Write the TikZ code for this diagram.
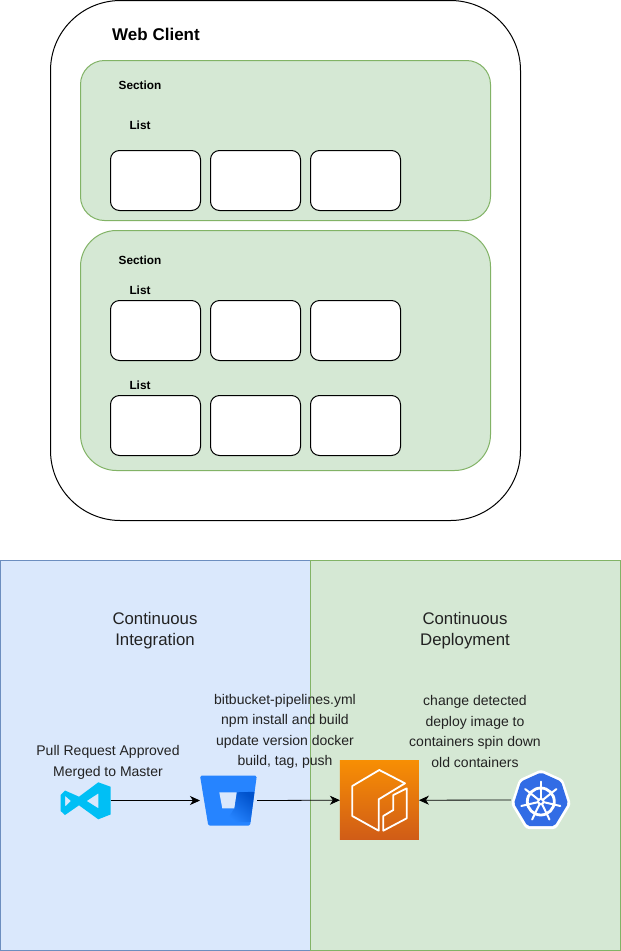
\documentclass[tikz,border=0pt]{standalone}
\usepackage{fontspec}
\setmainfont{Liberation Sans}
\usetikzlibrary{arrows.meta}
\definecolor{bluefill}{HTML}{DAE8FC}
\definecolor{bluestroke}{HTML}{6C8EBF}
\definecolor{greenfill}{HTML}{D5E8D4}
\definecolor{greenstroke}{HTML}{82B366}
\definecolor{txt}{HTML}{222222}
\definecolor{vsblue}{HTML}{00BFF5}
\definecolor{bbblue}{HTML}{2684FF}
\definecolor{bbdark}{HTML}{0052CC}
\definecolor{awstop}{HTML}{F78E04}
\definecolor{awsbot}{HTML}{D05C17}
\definecolor{kblue}{HTML}{326CE5}
\tikzset{
  x=1pt,y=-1pt,
  boxbase/.style={draw,line width=1pt,inner sep=0pt,outer sep=0pt},
  outerbox/.style={boxbase,draw=black,fill=white,rounded corners=70pt,minimum width=470pt,minimum height=520pt},
  sectbox/.style={boxbase,draw=greenstroke,fill=greenfill,minimum width=410pt},
  card/.style={boxbase,draw=black,fill=white,rounded corners=9pt,minimum width=90pt,minimum height=60pt},
  panel/.style={boxbase,minimum width=310pt,minimum height=390pt},
  webtitle/.style={font=\fontsize{17}{20}\selectfont\bfseries,inner sep=0pt,text=black},
  smalllabel/.style={font=\fontsize{11.8}{14}\selectfont\bfseries,inner sep=0pt,text=black},
  headlabel/.style={font=\fontsize{16.8}{21}\selectfont,align=center,inner sep=0pt,text=txt},
  bodylabel/.style={font=\fontsize{14}{20.4}\selectfont,align=center,inner sep=0pt,text=txt},
  iconbox/.style={inner sep=0pt,outer sep=0pt,minimum height=50pt},
  flow/.style={draw=black,line width=0.8pt,-{Stealth[length=10pt,width=9pt,inset=3pt]}},
  iconline/.style={draw=white,line width=1.8pt,line join=round,fill=none}
}
\begin{document}
\begin{tikzpicture}
\useasboundingbox[fill=white] (0,0) rectangle (621,951);
% panels
\node[panel,draw=bluestroke,fill=bluefill] (ci) at (155.5,755.5) {};
\node[panel,draw=greenstroke,fill=greenfill] (cd) at (465.5,755.5) {};
% web client
\node[outerbox] (web) at (285.5,260.5) {};
\node[sectbox,minimum height=160pt,rounded corners=24pt] (s1) at (285.5,140.5) {};
\node[sectbox,minimum height=240pt,rounded corners=36pt] (s2) at (285.5,350.5) {};
\node[card] (c11) at (155.5,180.5) {};
\node[card] (c12) at (255.5,180.5) {};
\node[card] (c13) at (355.5,180.5) {};
\node[card] (c21) at (155.5,330.5) {};
\node[card] (c22) at (255.5,330.5) {};
\node[card] (c23) at (355.5,330.5) {};
\node[card] (c31) at (155.5,425.5) {};
\node[card] (c32) at (255.5,425.5) {};
\node[card] (c33) at (355.5,425.5) {};
\node[webtitle] (tweb) at (156,34.5) {Web Client};
\node[smalllabel] (ts1) at (140,85) {Section};
\node[smalllabel] (tl1) at (140,125) {List};
\node[smalllabel] (ts2) at (140,260) {Section};
\node[smalllabel] (tl2) at (140,290) {List};
\node[smalllabel] (tl3) at (140,385) {List};
% panel titles
\node[headlabel] (tci) at (155,631) {Continuous\\Integration};
\node[headlabel] (tcd) at (465,631) {Continuous\\Deployment};
\node[bodylabel] (tpr) at (108,762.5) {Pull Request Approved\\Merged to Master};
\node[bodylabel] (tbb) at (285,731.5) {bitbucket-pipelines.yml\\npm install and build\\update version docker\\build, tag, push};
\node[bodylabel] (tk) at (475,731.5) {change detected\\deploy image to\\containers spin down\\old containers};
% icon anchors
\node[iconbox,minimum width=50pt] (vs) at (85.5,800.5) {};
\node[iconbox,minimum width=57pt] (bb) at (228.5,800.5) {};
\node[iconbox,minimum width=79pt,minimum height=78.5pt,top color=awstop,bottom color=awsbot] (aws) at (379.4,800.2) {};
\node[iconbox,minimum width=60pt] (k8) at (541,800) {};
% vscode
\fill[vsblue,even odd rule]
  (60.7,795) -- (65,790.5) -- (79,796.7) -- (98.3,782.3) -- (110.5,786.7) -- (110.5,814.5) -- (98.3,819.3) -- (79,805.3) -- (65,815) -- (60.7,811) -- cycle
  (65,795.7) -- (65,806.7) -- (71,801) -- cycle
  (98.3,793.3) -- (98.3,808.3) -- (86.7,801) -- cycle;
% bitbucket
\fill[bbblue,rounded corners=1.5pt]
  (200,775.7) -- (256.8,775.7) -- (250,825.7) -- (208.3,825.7) -- cycle;
\shade[top color=bbdark,bottom color=bbblue,shading angle=-40]
  (236.7,792.3) -- (254.5,791.8) -- (250.5,822) -- (226,822) -- (234.3,808.3) -- cycle;
\fill[bluefill] (219.3,792.3) -- (236.7,792.3) -- (234.3,808.3) -- (222.3,808.3) -- cycle;
% aws icon
\draw[iconline] (405,783.3) -- (379.3,770) -- (352.3,786) -- (352.3,816) -- (378.7,830.7) -- (378.7,799.3) -- cycle;
\draw[iconline] (406.7,788.3) -- (406.7,818.3) -- (383.3,830.7) -- (383.3,816) -- (393.3,810) -- (393.3,795) -- cycle;
% kubernetes
\fill[white,rounded corners=3pt] (541,769.5) -- (563,779.5) -- (571,804) -- (556,829) -- (526,829) -- (511,804) -- (519,779.5) -- cycle;
\fill[kblue,rounded corners=2pt] (541,772.5) -- (561,781.5) -- (568,803.5) -- (554.5,826) -- (527.5,826) -- (514,803.5) -- (521,781.5) -- cycle;
\draw[white,line width=2.8pt] (540.8,801.5) circle (13.5pt);
\foreach \a in {90,141.4,192.9,244.3,295.7,347.1,398.6}
  \draw[white,line width=2pt,line cap=round] (540.8,801.5) -- ++({20*cos(\a)},{-20*sin(\a)});
\fill[white] (540.8,801.5) circle (3.8pt);
\fill[kblue] (540.8,801.5) circle (1.7pt);
% connectors
\draw[flow] (vs.east) -- (bb.west);
\draw[flow] (bb.east) -- (aws.west);
\draw[flow] (k8.west) -- (aws.east);
\end{tikzpicture}
\end{document}
